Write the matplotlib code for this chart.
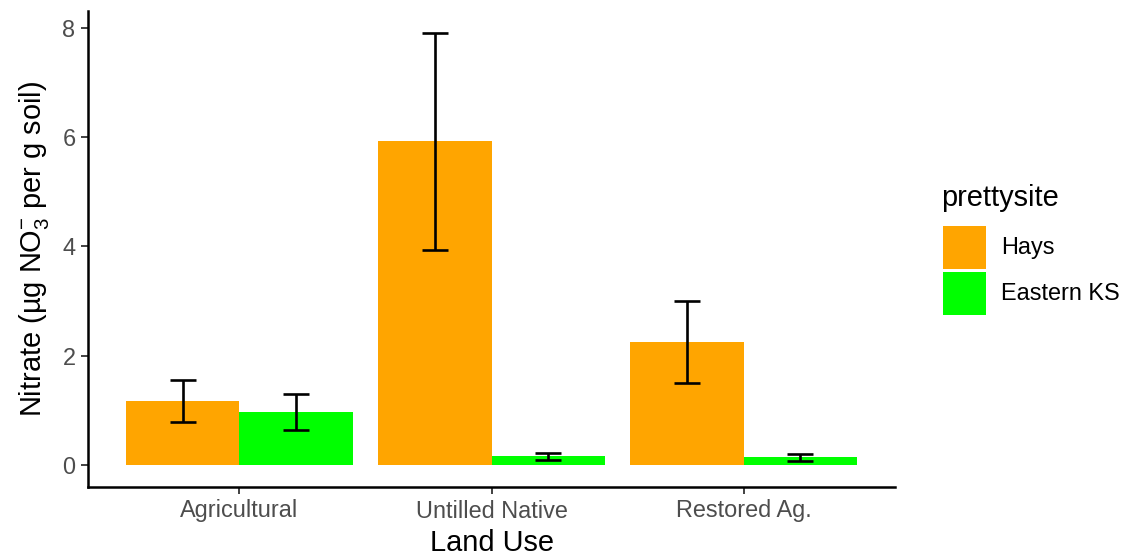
import matplotlib
matplotlib.use("Agg")
import matplotlib.pyplot as plt
from matplotlib.patches import Rectangle
import numpy as np

# Mean nitrate with standard error, per land use and site
categories = ["Agricultural", "Untilled Native", "Restored Ag."]
sites = ["Hays", "Eastern KS"]
hays_mean = [1.18, 5.92, 2.26]
hays_se = [0.385, 1.98, 0.75]
eastern_mean = [0.98, 0.165, 0.148]
eastern_se = [0.33, 0.07, 0.062]
site_colors = ["#FFA500", "#00FF00"]
y_ticks = [0, 2, 4, 6, 8]

plt.rcParams["font.family"] = ["Liberation Sans", "DejaVu Sans"]
plt.rcParams["mathtext.fontset"] = "custom"
plt.rcParams["mathtext.rm"] = "Liberation Sans"
plt.rcParams["mathtext.it"] = "Liberation Sans:italic"

W, H = 1128, 556
fig = plt.figure(figsize=(W / 100, H / 100), dpi=100)

def fx(px):
    return px / W

def fy(py):
    return 1 - py / H

ax = fig.add_axes([fx(88), fy(487), fx(895) - fx(88), fy(11.4) - fy(487)])

x = np.arange(1, len(categories) + 1)
dodge = 0.9
bw = dodge / 2
means = [hays_mean, eastern_mean]
ses = [hays_se, eastern_se]
for i, (m, s, c) in enumerate(zip(means, ses, site_colors)):
    xpos = x - dodge / 4 + i * bw
    ax.bar(xpos, m, width=bw, color=c, linewidth=0, zorder=2)
    ax.errorbar(xpos, m, yerr=s, fmt="none", ecolor="black",
                elinewidth=1.9, capsize=9.4, capthick=1.9, zorder=3)

ymax = max(max(np.add(hays_mean, hays_se)), max(np.add(eastern_mean, eastern_se)))
ax.set_ylim(-0.05 * ymax, ymax * 1.05)
ax.set_xlim(0.4, len(categories) + 0.6)

ax.set_xticks(x)
ax.set_xticklabels(categories)
ax.set_yticks(y_ticks)
ax.tick_params(axis="both", colors="#333333", labelcolor="#4D4D4D",
               labelsize=16.9, length=5, width=1.3, pad=4)

for side in ["top", "right"]:
    ax.spines[side].set_visible(False)
for side in ["left", "bottom"]:
    ax.spines[side].set_linewidth(1.8)
    ax.spines[side].set_color("black")

ax.set_xlabel("Land Use", fontsize=20.9, color="black", labelpad=5)
ax.set_ylabel("Nitrate (\u00b5g NO$_3^{-}$ per g soil)", fontsize=20.9,
              color="black", labelpad=8)

# Legend drawn as keyed squares beside the panel
fig.text(fx(941), fy(198), "prettysite", fontsize=20.9, va="center", ha="left")
key_tops = [226, 272]
for top, c, name in zip(key_tops, site_colors, sites):
    fig.add_artist(Rectangle((fx(943), fy(top + 43)), fx(43), fy(0) - fy(43),
                             transform=fig.transFigure, facecolor=c,
                             edgecolor="none"))
    fig.text(fx(1001), fy(top + 21.5), name, fontsize=16.9, va="center",
             ha="left", color="black")

fig.savefig("out.png", dpi=100, facecolor="white")
